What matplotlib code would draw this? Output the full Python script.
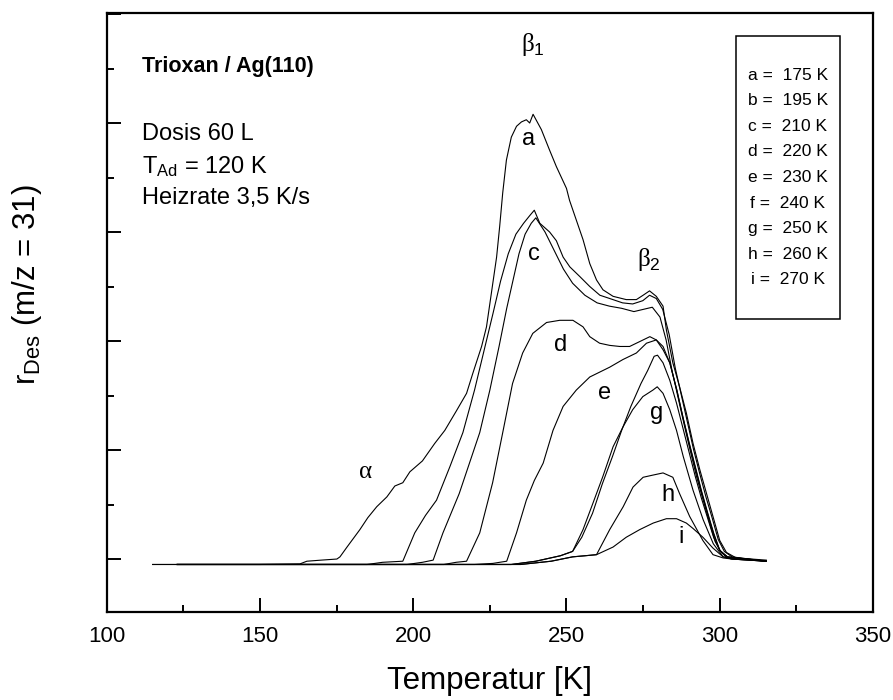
# TDS spectra of trioxane on Ag(110) for different annealing temperatures
import matplotlib
matplotlib.use('Agg')
import matplotlib.pyplot as plt
from matplotlib.patches import Rectangle
from matplotlib.ticker import MultipleLocator

plt.rcParams['font.family'] = ['Liberation Sans', 'DejaVu Sans']
plt.rcParams['mathtext.default'] = 'regular'
plt.rcParams['mathtext.fontset'] = 'custom'
plt.rcParams['mathtext.it'] = 'Liberation Serif'

# --- data (T in K, rate in arbitrary units) ---
T_a = [115, 150, 163, 165.3, 170, 175.1, 176.1, 178.4, 182.6, 185.2, 188.1, 191.4, 194.0, 196.6, 198.9,
       203.0, 207.0, 210.3, 214.1, 217.4, 219.4, 222.3, 223.9, 225.5, 227.2, 228.2, 229.2, 230.4, 232.0,
       233.7, 235.3, 236.9, 238.0, 239.1, 241.8, 244.5, 246.7, 250.0, 251.0, 253.2, 255.4, 257.6, 259.8,
       261.9, 265.2, 269.5, 272.8, 275.0, 277.1, 279.3, 281.5, 282.6, 284.7, 286.9, 289.1, 291.3, 293.5,
       295.6, 297.8, 300.0, 302.2, 305.4, 315.2]
r_a = [-0.05, -0.05, -0.045, -0.02, -0.01, 0.0, 0.02, 0.11, 0.27, 0.38, 0.48, 0.57, 0.67, 0.70, 0.80,
       0.90, 1.06, 1.18, 1.36, 1.52, 1.70, 1.95, 2.13, 2.44, 2.77, 3.05, 3.36, 3.66, 3.87,
       3.97, 4.01, 4.03, 4.00, 4.08, 3.94, 3.75, 3.60, 3.40, 3.29, 3.11, 2.93, 2.71, 2.56,
       2.47, 2.41, 2.38, 2.38, 2.42, 2.46, 2.41, 2.32, 2.10, 1.80, 1.58, 1.34, 1.06, 0.82,
       0.61, 0.39, 0.17, 0.06, 0.01, -0.01]

T_b = [115, 185, 190, 196.6, 200.5, 204, 207.6, 212, 216.2, 220, 223, 226, 228.5, 231, 233.5, 236,
       238, 239.5, 241.3, 244.5, 246.7, 248.9, 251.1, 254.4, 257.6, 260.9, 264.1, 268.3, 271.6, 274.9,
       277.1, 279.3, 281.4, 283.5, 285.5, 287.5, 289.5, 291.5, 293.5, 295.5, 297.5, 299.5, 301.5, 304, 315.2]
r_b = [-0.05, -0.05, -0.03, -0.02, 0.24, 0.40, 0.54, 0.85, 1.16, 1.55, 1.90, 2.25, 2.55, 2.80, 2.98, 3.08,
       3.15, 3.20, 3.08, 3.00, 2.92, 2.77, 2.68, 2.59, 2.50, 2.42, 2.39, 2.35, 2.34, 2.37,
       2.42, 2.39, 2.29, 2.06, 1.75, 1.50, 1.25, 1.00, 0.78, 0.57, 0.38, 0.18, 0.07, 0.02, -0.02]

T_c = [123, 198, 203, 206.5, 209.7, 215, 221.7, 225, 228, 230.5, 232.5, 234.5, 236.5, 238.5, 240,
       243, 246, 249, 252, 256, 260, 264, 268, 272, 275, 278, 280.5, 282.5, 284.5, 286.5, 288.5,
       290.5, 292.5, 294.5, 296.5, 298.5, 300.5, 303, 315.2]
r_c = [-0.05, -0.05, -0.03, -0.01, 0.24, 0.60, 1.16, 1.55, 1.95, 2.30, 2.55, 2.80, 2.98, 3.08, 3.13,
       3.00, 2.83, 2.66, 2.53, 2.42, 2.35, 2.32, 2.30, 2.27, 2.29, 2.31, 2.22, 2.01, 1.72, 1.47,
       1.22, 0.98, 0.75, 0.55, 0.35, 0.16, 0.06, 0.01, -0.02]

T_d = [123, 210, 214, 217.4, 221.7, 225.9, 229.2, 232.4, 235.7, 239.0, 243.5, 247.8, 252.1, 255.4,
       257.6, 260.8, 264.1, 267.4, 270.6, 275.0, 277.2, 279.3, 281.5, 283.7, 286.0, 288.0, 290.0,
       292.0, 294.0, 296.0, 298.0, 300.0, 302.5, 315.2]
r_d = [-0.05, -0.05, -0.03, -0.02, 0.24, 0.70, 1.16, 1.61, 1.89, 2.07, 2.17, 2.19, 2.19, 2.13,
       2.04, 1.98, 1.96, 1.95, 1.95, 2.01, 2.04, 2.01, 1.92, 1.80, 1.55, 1.30, 1.07,
       0.85, 0.63, 0.43, 0.24, 0.08, 0.02, -0.02]

T_e = [123, 220, 226, 228.2, 230.5, 233.7, 236.9, 239.5, 242.4, 245.6, 248.9, 253.2, 257.6, 264.1,
       268.4, 272.8, 276.1, 279.3, 281.5, 283.7, 286.0, 288.0, 290.0, 292.0, 294.0, 296.0, 298.0,
       300.0, 302.5, 315.2]
r_e = [-0.05, -0.05, -0.04, -0.03, -0.02, 0.24, 0.54, 0.72, 0.88, 1.18, 1.40, 1.55, 1.67, 1.76,
       1.83, 1.89, 1.98, 2.01, 1.95, 1.80, 1.55, 1.30, 1.06, 0.84, 0.62, 0.42, 0.23, 0.08, 0.02, -0.02]

T_f = [123, 232, 240, 248, 252, 255, 258.5, 261.7, 265, 268, 271, 274.3, 276.5, 278.6, 279.7, 281.5,
       283.7, 285.9, 288, 290, 292, 294, 296, 298, 300, 302, 315.2]
r_f = [-0.05, -0.05, -0.02, 0.03, 0.07, 0.20, 0.42, 0.69, 0.94, 1.18, 1.40, 1.61, 1.73, 1.86, 1.87,
       1.80, 1.64, 1.43, 1.20, 0.98, 0.76, 0.56, 0.38, 0.20, 0.08, 0.02, -0.02]

T_g = [123, 232, 240, 248, 252, 255.4, 258.6, 261.9, 265.2, 268.4, 271.6, 274.9, 278.2, 279.6, 281.5,
       283.7, 285.9, 288.1, 291.3, 294.6, 297.9, 301.1, 304, 315.2]
r_g = [-0.05, -0.05, -0.02, 0.03, 0.07, 0.27, 0.51, 0.76, 1.03, 1.21, 1.37, 1.49, 1.55, 1.58, 1.52,
       1.37, 1.18, 0.94, 0.63, 0.36, 0.14, 0.02, 0.0, -0.02]

T_h = [123, 235, 245, 252, 256, 259.8, 264.1, 268.5, 271.7, 275.0, 278.2, 281.5, 284.7, 286.9, 290.2,
       294.5, 297.8, 301.1, 304, 315.2]
r_h = [-0.05, -0.05, -0.02, 0.02, 0.03, 0.04, 0.27, 0.48, 0.66, 0.75, 0.77, 0.79, 0.75, 0.60, 0.39,
       0.17, 0.04, 0.01, 0.0, -0.02]

T_i = [123, 235, 245, 252, 256, 259.8, 265.2, 269.5, 273.9, 278.3, 282.6, 285.9, 289.1, 291.3, 294.5,
       297.8, 301.1, 304, 315.2]
r_i = [-0.05, -0.05, -0.02, 0.02, 0.03, 0.04, 0.11, 0.20, 0.27, 0.33, 0.37, 0.37, 0.33, 0.28, 0.20,
       0.10, 0.02, 0.0, -0.02]

curves = [(T_a, r_a), (T_b, r_b), (T_c, r_c), (T_d, r_d), (T_e, r_e),
          (T_f, r_f), (T_g, r_g), (T_h, r_h), (T_i, r_i)]

legend_lines = ['a =  175 K', 'b =  195 K', 'c =  210 K', 'd =  220 K', 'e =  230 K',
                'f =  240 K', 'g =  250 K', 'h =  260 K', 'i =  270 K']

# curve letters and peak names (x, y in data units)
curve_labels = [('a', 237.7, 3.85), ('c', 239.3, 2.80), ('d', 248.1, 1.96), ('e', 262.5, 1.52),
                ('g', 279.4, 1.34), ('h', 283.2, 0.59), ('i', 287.5, 0.20)]
peak_labels = [(r'$\mathit{\beta}_1$', 239.0, 4.72), (r'$\mathit{\beta}_2$', 276.8, 2.75),
               (r'$\mathit{\alpha}$', 184.3, 0.81)]

# --- figure ---
fig = plt.figure(figsize=(8.93, 7), dpi=100)
ax = fig.add_axes([0.1195, 0.1257, 0.8581, 0.8557])

for T, r in curves:
    ax.plot(T, r, color='black', linewidth=0.8)

ax.set_xlim(100, 350)
ax.set_ylim(-0.486, 5.009)
ax.xaxis.set_major_locator(MultipleLocator(50))
ax.xaxis.set_minor_locator(MultipleLocator(25))
ax.yaxis.set_major_locator(MultipleLocator(1))
ax.yaxis.set_minor_locator(MultipleLocator(0.5))
ax.set_yticklabels([])
ax.tick_params(which='both', direction='in', width=1.4, top=False, right=False)
ax.tick_params(which='major', length=10, labelsize=16, pad=10)
ax.tick_params(which='minor', length=5)
for s in ax.spines.values():
    s.set_linewidth(1.6)

ax.set_xlabel('Temperatur [K]', fontsize=22.5)
ax.xaxis.set_label_coords(0.5, -0.09)
ax.set_ylabel(r'r$_{Des}$ (m/z = 31)', fontsize=22.5)
ax.yaxis.set_label_coords(-0.082, 0.546)

# info text
ax.text(111.5, 4.52, 'Trioxan / Ag(110)', fontsize=15.5, fontweight='bold', va='center')
ax.text(111.5, 3.90, 'Dosis 60 L', fontsize=17, va='center')
ax.text(111.5, 3.60, r'T$_{Ad}$ = 120 K', fontsize=17, va='center')
ax.text(111.5, 3.31, 'Heizrate 3,5 K/s', fontsize=17, va='center')

for lab, x, y in curve_labels:
    ax.text(x, y, lab, fontsize=17, ha='center', va='center')
for lab, x, y in peak_labels:
    ax.text(x, y, lab, fontsize=18, ha='center', va='center')

# legend box
ax.add_patch(Rectangle((0.821, 0.489), 0.136, 0.473, transform=ax.transAxes,
                       fill=False, edgecolor='black', linewidth=1.1))
for i, line in enumerate(legend_lines):
    ax.text(0.889, (612 - (75 + i * 25.6)) / 599, line, transform=ax.transAxes,
            fontsize=12.5, ha='center', va='center')

fig.savefig('out.png', dpi=100)
